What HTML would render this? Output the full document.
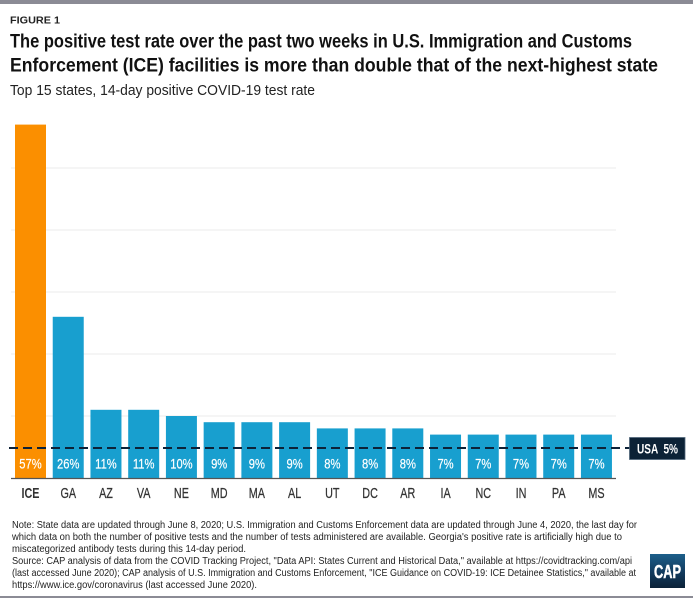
<!DOCTYPE html>
<html lang="en">
<head>
<meta charset="utf-8">
<title>Figure 1: Positive test rate</title>
<style>
html,body{margin:0;padding:0;background:#fff;width:693px;height:598px;overflow:hidden}
svg{display:block;font-family:"Liberation Sans",sans-serif}
</style>
</head>
<body>
<svg id="chart" width="693" height="598" viewBox="0 0 693 598">
  <rect x="0" y="0" width="693" height="4" fill="#8b8b95"/>
  <rect x="0" y="596" width="693" height="2" fill="#8b8b95"/>
  <text x="10" y="23.5" font-size="10.5" font-weight="700" fill="#222" textLength="50" lengthAdjust="spacingAndGlyphs">FIGURE 1</text>
  <g font-size="19.5" font-weight="700" fill="#111">
    <text x="10" y="47.5" textLength="622" lengthAdjust="spacingAndGlyphs">The positive test rate over the past two weeks in U.S. Immigration and Customs</text>
    <text x="10" y="71.5" textLength="648" lengthAdjust="spacingAndGlyphs">Enforcement (ICE) facilities is more than double that of the next-highest state</text>
  </g>
  <text x="10" y="95" font-size="15" fill="#222" textLength="305" lengthAdjust="spacingAndGlyphs">Top 15 states, 14-day positive COVID-19 test rate</text>
  <g id="grid"></g>
  <g id="bars"></g>
  <line x1="11" y1="478.5" x2="616" y2="478.5" stroke="#555" stroke-width="1.2"/>
  <g id="labels"></g>
  <line id="avg" x1="9" x2="630" stroke="#0d2238" stroke-width="2" stroke-dasharray="9 5"/>
  <g>
    <rect x="629.5" y="437.5" width="55.5" height="22" fill="#0c2236" stroke="#52687c" stroke-width="0.8"/>
    <text x="657.5" y="453.5" font-size="14" font-weight="700" fill="#fff" text-anchor="middle" textLength="41" lengthAdjust="spacingAndGlyphs" xml:space="preserve">USA  5%</text>
  </g>
  <g font-size="9.7" fill="#222">
    <text x="12" y="528" textLength="625" lengthAdjust="spacingAndGlyphs">Note: State data are updated through June 8, 2020; U.S. Immigration and Customs Enforcement data are updated through June 4, 2020, the last day for</text>
    <text x="12" y="540" textLength="610" lengthAdjust="spacingAndGlyphs">which data on both the number of positive tests and the number of tests administered are available. Georgia's positive rate is artificially high due to</text>
    <text x="12" y="552" textLength="234" lengthAdjust="spacingAndGlyphs">miscategorized antibody tests during this 14-day period.</text>
    <text x="12" y="564" textLength="620" lengthAdjust="spacingAndGlyphs">Source: CAP analysis of data from the COVID Tracking Project, "Data API: States Current and Historical Data," available at https://covidtracking.com/api</text>
    <text x="12" y="576" textLength="624" lengthAdjust="spacingAndGlyphs">(last accessed June 2020); CAP analysis of U.S. Immigration and Customs Enforcement, "ICE Guidance on COVID-19: ICE Detainee Statistics," available at</text>
    <text x="12" y="588" textLength="245" lengthAdjust="spacingAndGlyphs">https://www.ice.gov/coronavirus (last accessed June 2020).</text>
  </g>
  <defs>
    <linearGradient id="logoFill" x1="0" y1="0" x2="0" y2="1">
      <stop offset="0" stop-color="#1d5f8a"/>
      <stop offset="0.55" stop-color="#123a5c"/>
      <stop offset="1" stop-color="#0b2238"/>
    </linearGradient>
  </defs>
  <g>
    <rect x="650" y="554" width="35" height="34" fill="url(#logoFill)"/>
    <text x="667.5" y="578" font-size="18" font-weight="700" fill="#fff" stroke="#fff" stroke-width="0.5" text-anchor="middle" textLength="27" lengthAdjust="spacingAndGlyphs">CAP</text>
  </g>
</svg>
<script>
const categories = ["ICE","GA","AZ","VA","NE","MD","MA","AL","UT","DC","AR","IA","NC","IN","PA","MS"];
const values = [57,26,11,11,10,9,9,9,8,8,8,7,7,7,7,7];
const gridTicks = [10,20,30,40,50];
const usaAverage = 5;

const NS = "http://www.w3.org/2000/svg";
function xAxis(i){ return 30.5 + i * 37.73; }
function yAxis(v){ return 478 - v * 6.2; }
const BAR_W = 31;

const gridG = document.getElementById("grid");
gridTicks.forEach(function(t){
  const l = document.createElementNS(NS,"line");
  
  
  l.setAttribute("x1",11);
  l.setAttribute("x2",616);
  l.setAttribute("y1",yAxis(t));
  l.setAttribute("y2",yAxis(t));
  l.setAttribute("stroke","#ebebeb");
  l.setAttribute("stroke-width","1");
  gridG.appendChild(l);
});

const barsG = document.getElementById("bars");
const labelsG = document.getElementById("labels");
categories.forEach(function(c,i){
  const v = values[i];
  const r = document.createElementNS(NS,"rect");
  
  
  r.setAttribute("x",xAxis(i)-BAR_W/2);
  r.setAttribute("y",yAxis(v));
  r.setAttribute("width",BAR_W);
  r.setAttribute("height",yAxis(0)-yAxis(v));
  r.setAttribute("fill",i===0?"#fb8f00":"#189fcf");
  barsG.appendChild(r);

  const t = document.createElementNS(NS,"text");
  
  
  t.setAttribute("transform","translate("+xAxis(i)+",468.5) scale(0.8,1)");
  t.setAttribute("font-size","14");
  t.setAttribute("fill","#fff");
  t.setAttribute("stroke","#fff");
  t.setAttribute("stroke-width","0.2");
  t.setAttribute("text-anchor","middle");
  t.textContent = v + "%";
  barsG.appendChild(t);

  const a = document.createElementNS(NS,"text");
  
  
  a.setAttribute("transform","translate("+xAxis(i)+",498) scale(0.72,1)");
  a.setAttribute("font-size","15");
  a.setAttribute("font-weight",i===0?"700":"400");
  a.setAttribute("fill","#333");
  a.setAttribute("stroke","#333");
  a.setAttribute("stroke-width",i===0?"0":"0.25");
  a.setAttribute("text-anchor","middle");
  a.textContent = c;
  labelsG.appendChild(a);
});

const avg = document.getElementById("avg");
avg.setAttribute("y1",yAxis(usaAverage)+1);
avg.setAttribute("y2",yAxis(usaAverage)+1);
</script>
</body>
</html>
